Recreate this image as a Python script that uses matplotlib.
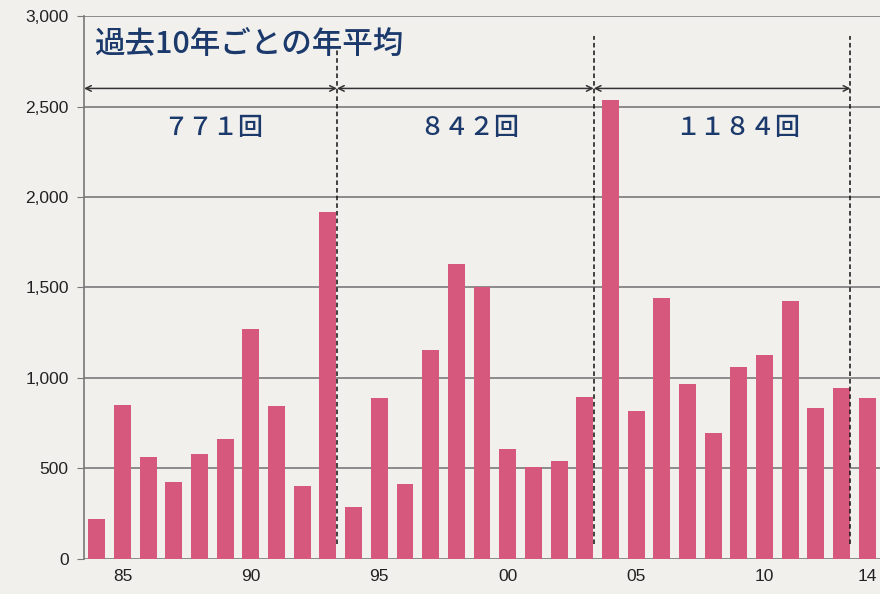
import matplotlib.pyplot as plt
from matplotlib.ticker import FuncFormatter

plt.rcParams['font.family'] = ['Noto Sans CJK JP', 'DejaVu Sans']

# 年ごとの回数
years = list(range(1984, 2015))
counts = [223, 853, 565, 425, 578, 661, 1272, 845, 405, 1919,
          287, 888, 414, 1155, 1630, 1501, 609, 510, 541, 897,
          2538, 816, 1442, 968, 698, 1061, 1129, 1424, 836, 943,
          890]
tick_years = [1985, 1990, 1995, 2000, 2005, 2010, 2014]
tick_labels = ["85", "90", "95", "00", "05", "10", "14"]

# 10年ごとの区切りと平均
bounds = [1983.5, 1993.35, 2003.35, 2013.35]
dash_tops = [2820, 2890, 2890]
averages = ["７７１回", "８４２回", "１１８４回"]
avg_shift = [0.1, 0.15, 0.6]

navy = '#1b3a6b'
bg = '#f1f0ed'

fig = plt.figure(figsize=(8.8, 5.94), dpi=100, facecolor=bg)
ax = fig.add_axes([0.0955, 0.059, 0.9045, 0.914])
ax.set_facecolor(bg)

ax.bar(years, counts, width=0.66, color='#d6587c', zorder=2)

ax.set_xlim(1983.5, 2014.5)
ax.set_ylim(0, 3000)
ax.set_yticks(range(0, 3001, 500))
ax.yaxis.set_major_formatter(FuncFormatter(lambda v, p: f"{int(v):,}"))
ax.set_xticks(tick_years)
ax.set_xticklabels(tick_labels)
ax.tick_params(axis='both', labelsize=12.5, colors='#222222', length=0, pad=7)
ax.tick_params(axis='y', length=5, color='#777777', pad=6)
for lbl in ax.get_xticklabels() + ax.get_yticklabels():
    lbl.set_family(['Liberation Sans', 'DejaVu Sans'])
ax.yaxis.grid(True, color='#7a7a7a', linewidth=1.2, zorder=1)

for s in ['top', 'right', 'bottom']:
    ax.spines[s].set_visible(False)
ax.spines['left'].set_color('#777777')
ax.spines['left'].set_linewidth(1.2)

# 区切りの点線
for b, top in zip(bounds[1:], dash_tops):
    ax.plot([b, b], [85, top], color='#111111', linestyle=(0, (3, 2)),
            linewidth=1.1, zorder=3)

# 矢印と平均値
arrow_y = 2600
for i in range(3):
    x0, x1 = bounds[i], bounds[i + 1]
    ax.annotate('', xy=(x0, arrow_y), xytext=(x1, arrow_y),
                arrowprops=dict(arrowstyle='<->', color='#333333', lw=1.1,
                                shrinkA=0, shrinkB=0), zorder=3)
    ax.text((x0 + x1) / 2 + avg_shift[i], 2380, averages[i], ha='center',
            va='center', fontsize=18, color=navy, fontweight='medium')

ax.text(1983.9, 2835, "過去10年ごとの年平均", ha='left', va='center',
        fontsize=22, color=navy, fontweight='medium')

fig.savefig('out.png', dpi=100, facecolor=bg)
